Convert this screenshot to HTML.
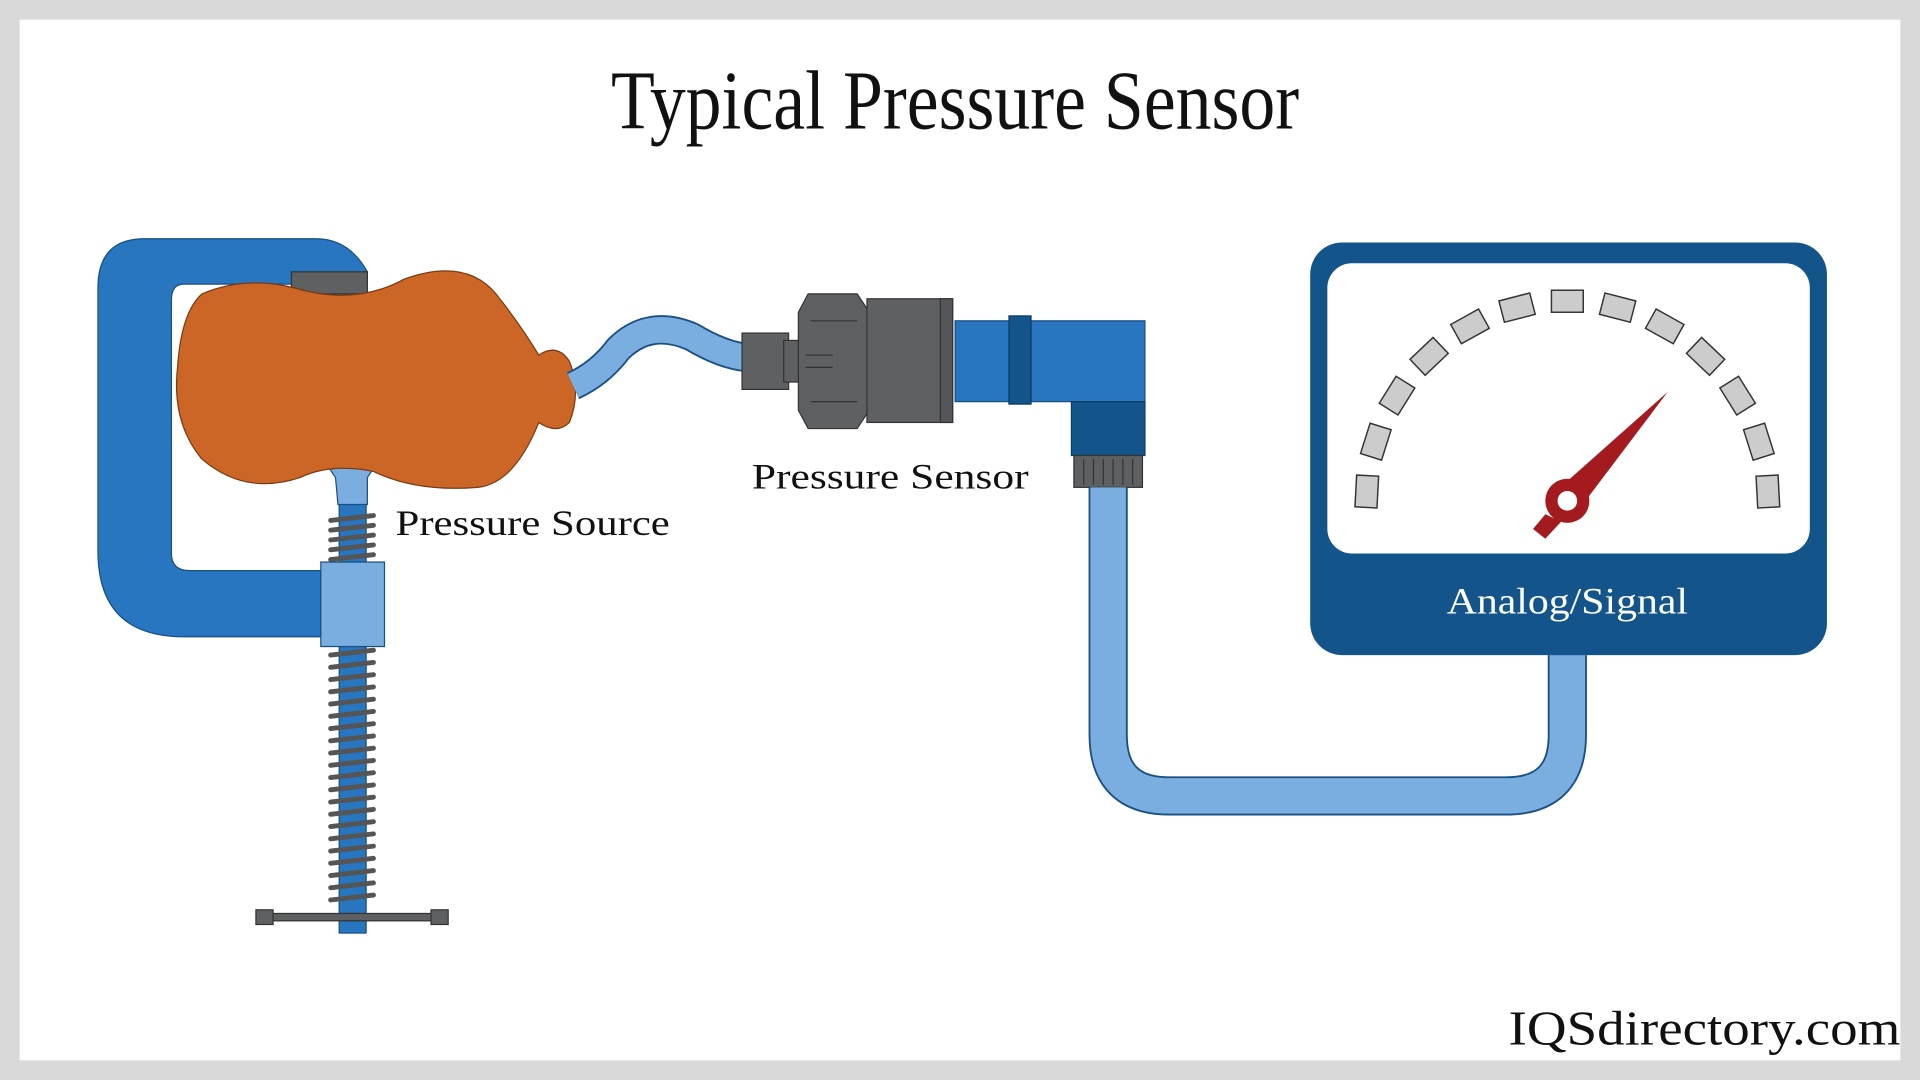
<!DOCTYPE html>
<html><head><meta charset="utf-8"><style>
html,body{margin:0;padding:0;width:1920px;height:1080px;overflow:hidden;background:#d9d9d9}
svg{display:block}
</style></head><body>
<svg width="1920" height="1080" viewBox="0 0 1568 882" xmlns="http://www.w3.org/2000/svg">
<rect x="0" y="0" width="1568" height="882" fill="#d9d9d9"/>
<rect x="16" y="16" width="1536" height="850" fill="#fff"/>
<text x="780" y="105" text-anchor="middle" font-family="Liberation Serif, serif" font-size="68" textLength="562" lengthAdjust="spacingAndGlyphs" fill="#111">Typical Pressure Sensor</text>

<!-- clamp -->
<path d="M118 195 H258 Q285 195 300 222 L300 232 H150 Q140 232 140 245 V452 Q140 466 155 466 H262 V520 H150 Q80 520 80 450 V235 Q80 195 118 195 Z" fill="#2776bf" stroke="#1b4f80" stroke-width="1"/>
<rect x="238" y="222" width="62" height="18" fill="#5f6062" stroke="#333"/>
<!-- screw -->
<rect x="277" y="405" width="22" height="357" fill="#2776bf" stroke="#1b4f80"/>
<g stroke="#555" stroke-width="4" stroke-linecap="round">
<line x1="270" y1="425" x2="305" y2="421"/><line x1="270" y1="433" x2="305" y2="429"/><line x1="270" y1="441" x2="305" y2="437"/><line x1="270" y1="449" x2="305" y2="445"/><line x1="270" y1="457" x2="305" y2="453"/>
</g>
<g stroke="#555" stroke-width="4" stroke-linecap="round">
<line x1="270" y1="535" x2="305" y2="531"/><line x1="270" y1="545" x2="305" y2="541"/><line x1="270" y1="555" x2="305" y2="551"/><line x1="270" y1="565" x2="305" y2="561"/><line x1="270" y1="575" x2="305" y2="571"/><line x1="270" y1="585" x2="305" y2="581"/><line x1="270" y1="595" x2="305" y2="591"/><line x1="270" y1="605" x2="305" y2="601"/><line x1="270" y1="615" x2="305" y2="611"/><line x1="270" y1="625" x2="305" y2="621"/><line x1="270" y1="635" x2="305" y2="631"/><line x1="270" y1="645" x2="305" y2="641"/><line x1="270" y1="655" x2="305" y2="651"/><line x1="270" y1="665" x2="305" y2="661"/><line x1="270" y1="675" x2="305" y2="671"/><line x1="270" y1="685" x2="305" y2="681"/><line x1="270" y1="695" x2="305" y2="691"/><line x1="270" y1="705" x2="305" y2="701"/><line x1="270" y1="715" x2="305" y2="711"/><line x1="270" y1="725" x2="305" y2="721"/><line x1="270" y1="735" x2="305" y2="731"/>
</g>
<rect x="262" y="459" width="52" height="69" fill="#7aaee0" stroke="#1b4f80"/>
<rect x="212" y="746" width="150" height="6" fill="#5f6062" stroke="#333"/>
<rect x="209" y="743" width="14" height="12" fill="#5f6062" stroke="#333"/>
<rect x="352" y="743" width="14" height="12" fill="#5f6062" stroke="#333"/>
<path d="M266 378 H308 L300 390 L300 412 H276 L274 390 Z" fill="#7aaee0" stroke="#1b4f80"/>
<!-- bottle -->
<path d="M165 240 Q200 225 240 235 Q290 250 330 228 Q380 210 405 240 Q425 265 440 290 Q455 280 465 295 Q475 320 465 345 Q455 355 440 345 Q420 395 390 398 Q340 402 305 385 Q270 378 245 390 Q200 405 165 375 Q140 345 145 300 Q148 255 165 240 Z" fill="#cc6627" stroke="#7a3a12" stroke-width="1"/>
<!-- hose -->
<path d="M468 315 Q490 305 505 285 Q530 260 565 275 Q590 290 610 292" fill="none" stroke="#1b4f80" stroke-width="24"/>
<path d="M468 315 Q490 305 505 285 Q530 260 565 275 Q590 290 610 292" fill="none" stroke="#7aaee0" stroke-width="21"/>
<!-- sensor -->
<rect x="606" y="272" width="38" height="46" fill="#5f6062" stroke="#333"/>
<rect x="640" y="278" width="16" height="34" fill="#5f6062" stroke="#333"/>
<path d="M660 240 H700 L710 255 V335 L700 350 H660 L652 335 V255 Z" fill="#5f6062" stroke="#333"/>
<path d="M662 262 H700 M662 328 H700 M658 290 L680 290 M658 300 L680 300" stroke="#333" fill="none"/>
<rect x="708" y="244" width="70" height="101" fill="#5f6062" stroke="#333"/>
<rect x="768" y="244" width="10" height="101" fill="#55565a" stroke="#333"/>
<rect x="780" y="262" width="155" height="66" fill="#2776bf" stroke="#1b4f80"/>
<rect x="824" y="258" width="18" height="72" fill="#13548a" stroke="#0d3a60"/>
<rect x="875" y="328" width="60" height="44" fill="#13548a" stroke="#0d3a60"/>
<rect x="877" y="372" width="56" height="26" fill="#5f6062" stroke="#333"/>
<path d="M885 375 V396 M893 375 V396 M901 375 V396 M909 375 V396 M917 375 V396 M925 375 V396" stroke="#333"/>
<!-- cable -->
<path d="M905 398 V600 Q905 650 955 650 H1230 Q1280 650 1280 600 V535" fill="none" stroke="#1b4f80" stroke-width="32"/>
<path d="M905 398 V600 Q905 650 955 650 H1230 Q1280 650 1280 600 V535" fill="none" stroke="#7aaee0" stroke-width="29"/>
<!-- gauge -->
<rect x="1070" y="198" width="422" height="337" rx="26" fill="#13548a"/>
<rect x="1084" y="215" width="394" height="237" rx="20" fill="#fff"/>
<g fill="#cccccc" stroke="#333" stroke-width="1.2" id="ticks"></g>
<text x="1280" y="501" text-anchor="middle" font-family="Liberation Serif, serif" font-size="30" textLength="197" lengthAdjust="spacingAndGlyphs" fill="#fff">Analog/Signal</text>
<path d="M1272 400 L1362 320 L1288 418 Z" fill="#a31b1f"/>
<path d="M1262 420 L1252 432 L1262 440 L1275 426 Z" fill="#a31b1f"/>
<circle cx="1280" cy="409" r="18" fill="#a31b1f"/>
<circle cx="1280" cy="409" r="8" fill="#fff"/>

<text x="323" y="437" font-family="Liberation Serif, serif" font-size="29" textLength="224" lengthAdjust="spacingAndGlyphs" fill="#111">Pressure Source</text>
<text x="614" y="399" font-family="Liberation Serif, serif" font-size="29" textLength="226" lengthAdjust="spacingAndGlyphs" fill="#111">Pressure Sensor</text>
<text x="1552" y="853" text-anchor="end" font-family="Liberation Serif, serif" font-size="40" textLength="320" lengthAdjust="spacingAndGlyphs" fill="#111">IQSdirectory.com</text>
</svg>
<script>
(function(){var g=document.getElementById('ticks');var cx=1280,cy=410,r=164;
for(var i=0;i<13;i++){var a=-177+i*14.5;var rad=a*Math.PI/180;var x=cx+r*Math.cos(rad),y=cy+r*Math.sin(rad);
var e=document.createElementNS('http://www.w3.org/2000/svg','rect');e.setAttribute('x',-13);e.setAttribute('y',-9);e.setAttribute('width',26);e.setAttribute('height',18);
e.setAttribute('transform','translate('+x+','+y+') rotate('+(a+90)+')');g.appendChild(e);}})();
</script>
</body></html>
